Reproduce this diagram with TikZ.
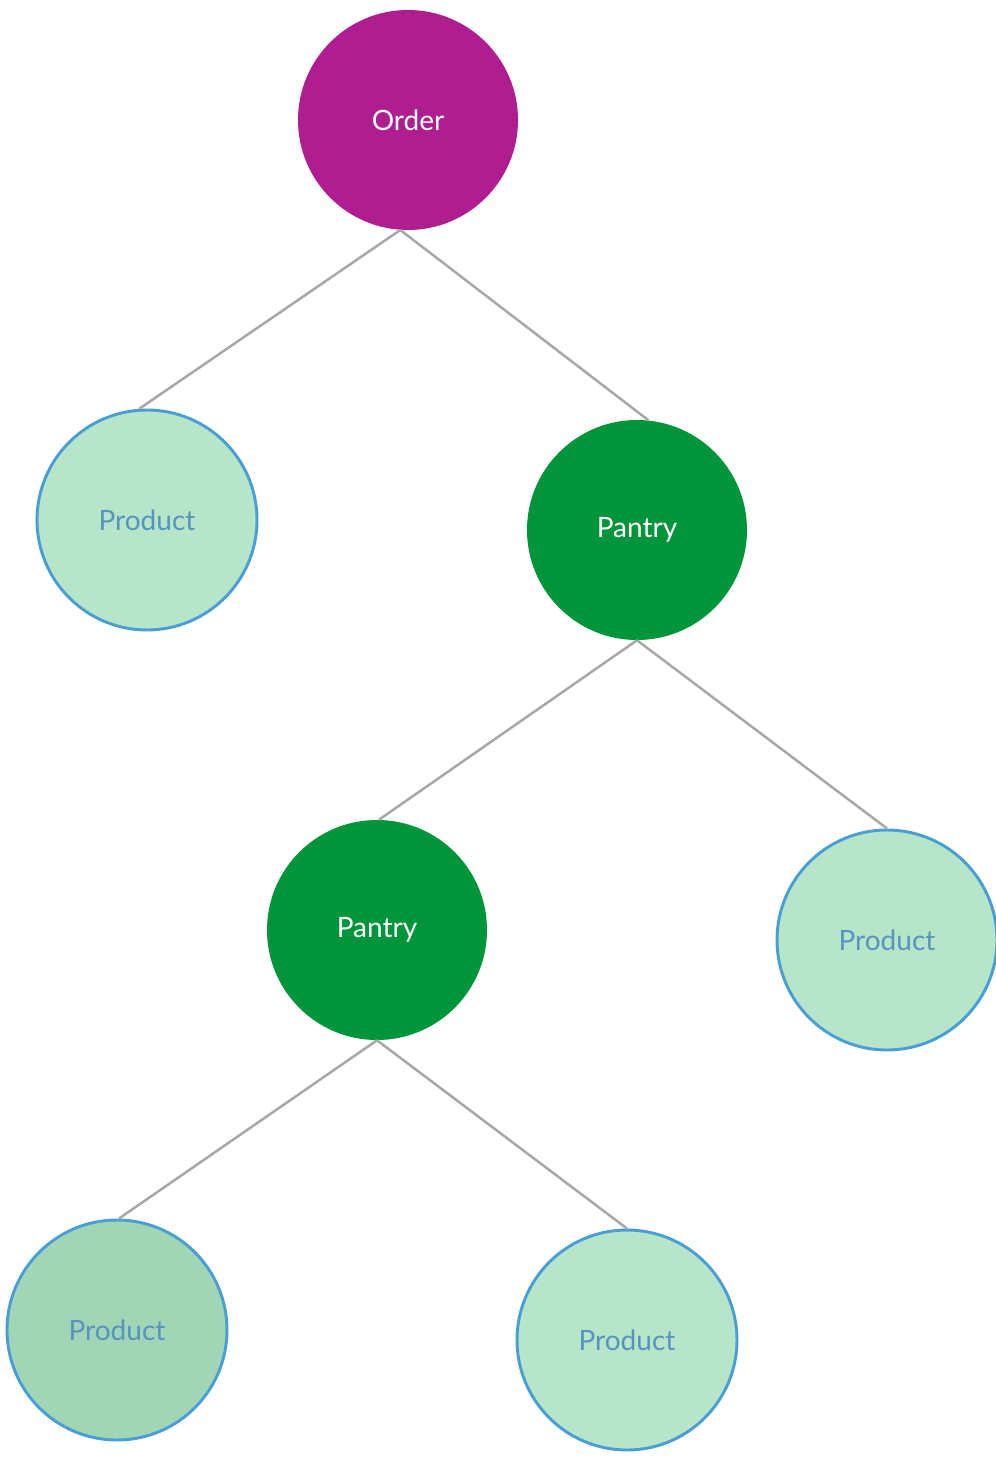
\documentclass[tikz,border=0pt]{standalone}
\usepackage{fontspec}
\setmainfont{Lato}
\usepackage{tikz}
\definecolor{orderpurple}{RGB}{174,30,143}
\definecolor{pantrygreen}{RGB}{0,149,58}
\definecolor{prodfill}{RGB}{182,229,202}
\definecolor{prodfilldark}{RGB}{160,213,182}
\definecolor{prodline}{RGB}{74,158,214}
\definecolor{prodtext}{RGB}{86,148,190}
\definecolor{edgegray}{RGB}{168,168,168}
\tikzset{
  treenode/.style={circle, minimum size=165pt, inner sep=0pt, font=\fontsize{21}{25}\selectfont},
  ordernode/.style={treenode, fill=orderpurple, text=white},
  pantrynode/.style={treenode, fill=pantrygreen, text=white},
  productnode/.style={treenode, fill=prodfill, draw=prodline, line width=2.2pt, text=prodtext},
  treeedge/.style={draw=edgegray, line width=1.9pt}
}

\begin{document}
\begin{tikzpicture}[x=0.75pt,y=0.75pt,yscale=-1]
\useasboundingbox (0,0) rectangle (995,1458);

% Circles
\node [ordernode] (order) at (408,120) {Order};
\node [productnode] (prodA) at (147,520) {Product};
\node [pantrynode] (pantryA) at (637,530) {Pantry};
\node [pantrynode] (pantryB) at (377,930) {Pantry};
\node [productnode] (prodB) at (887,940) {Product};
\node [productnode, fill=prodfilldark] (prodC) at (117,1330) {Product};
\node [productnode] (prodD) at (627,1340) {Product};

% Straight Lines
\draw [treeedge] (order.266) -- (prodA.94);
\draw [treeedge] (order.266) -- (pantryA.84);
\draw [treeedge] (pantryA.south) -- (pantryB.89);
\draw [treeedge] (pantryA.south) -- (prodB.north);
\draw [treeedge] (pantryB.south) -- (prodC.89);
\draw [treeedge] (pantryB.south) -- (prodD.north);

\end{tikzpicture}
\end{document}
